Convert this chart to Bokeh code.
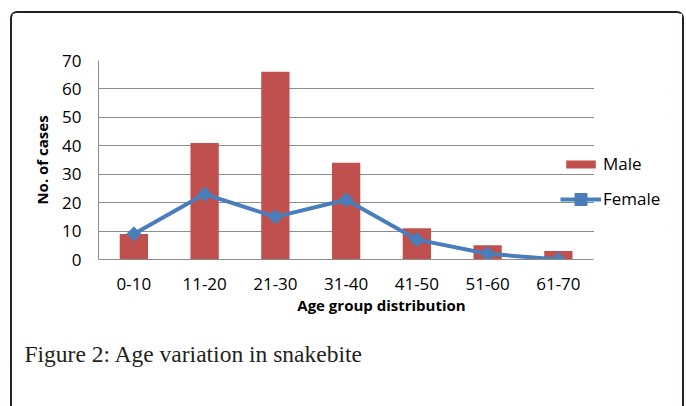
import numpy as np
from bokeh.plotting import figure
from bokeh.layouts import column
from bokeh.models import (FactorRange, Range1d, Legend, LegendItem, Title,
                          SingleIntervalTicker, BoxAnnotation)
from bokeh.embed import file_html
from bokeh.resources import INLINE

# ---- data ----
age_groups = ["0-10", "11-20", "21-30", "31-40", "41-50", "51-60", "61-70"]
male = [9, 41, 66, 34, 11, 5, 3]
female = [9, 23, 15, 21, 7, 2, 0]

x_title = "Age group distribution"
y_title = "No. of cases"
caption = "Figure 2: Age variation in snakebite"

BAR = "#C0504D"
LINE = "#4A7EBB"
GRID = "#8c8c8c"
FONT = "Open Sans"
INK = "#231f20"

# one empty slot to the right of the categories holds the legend
legend_slot = " "

p = figure(width=670, height=393, output_backend="svg", toolbar_location=None,
           x_range=FactorRange(*age_groups, legend_slot, range_padding=0),
           y_range=Range1d(0, 70))
p.min_border_left = 86
p.min_border_right = 18
p.min_border_top = 47
p.min_border_bottom = 147
p.outline_line_color = None
p.background_fill_color = "white"
p.border_fill_color = "white"

bars = p.vbar(x=age_groups, top=male, width=0.4, fill_color=BAR, line_color=None)
ln = p.line(x=age_groups, y=female, line_width=4, line_color=LINE)
mk = p.scatter(x=age_groups, y=female, marker="square", angle=np.pi / 4, size=10,
               fill_color=LINE, line_color=LINE)

# axes
p.yaxis.ticker = SingleIntervalTicker(interval=10)
for ax in (p.xaxis[0], p.yaxis[0]):
    ax.axis_line_color = GRID
    ax.axis_line_width = 1
    ax.major_tick_in = 0
    ax.major_tick_out = 0
    ax.minor_tick_in = 0
    ax.minor_tick_out = 0
    ax.major_label_text_font = FONT
    ax.major_label_text_font_size = "17px"
    ax.major_label_text_color = "black"
    ax.axis_label_text_font = FONT
    ax.axis_label_text_font_size = "15px"
    ax.axis_label_text_font_style = "bold"
    ax.axis_label_text_color = "black"
p.xaxis.bounds = (0, len(age_groups))
p.yaxis.axis_label = y_title
p.xaxis.axis_label = x_title
p.yaxis.major_label_standoff = 17
p.yaxis.axis_label_standoff = 7
p.xaxis.major_label_standoff = 18
p.xaxis.axis_label_standoff = 2

p.xgrid.grid_line_color = None
p.ygrid.grid_line_color = GRID
p.ygrid.grid_line_width = 1

# blank the gridlines in the legend slot
p.add_layout(BoxAnnotation(left=495.5, left_units="screen",
                           right=800, right_units="screen",
                           fill_color="white", fill_alpha=1, line_color=None))

# legends
common = dict(orientation="vertical", padding=0, margin=0, spacing=0,
              border_line_color=None, background_fill_alpha=0,
              label_text_font=FONT, label_text_font_size="17px",
              label_text_color="black")
leg_m = Legend(items=[LegendItem(label="Male", renderers=[bars])],
               location=(464, 84), glyph_width=37, glyph_height=10,
               label_standoff=4, **common)
leg_f = Legend(items=[LegendItem(label="Female", renderers=[ln, mk])],
               location=(462, 45.5), glyph_width=41, glyph_height=30,
               label_standoff=2, **common)
p.add_layout(leg_m, "center")
p.add_layout(leg_f, "center")

# caption
p.add_layout(Title(text=caption, align="left", offset=-74, standoff=42,
                   text_font="Liberation Serif", text_font_size="23.5px",
                   text_font_style="normal", text_color=INK), "below")

page = column(p, styles={"margin-left": "10px", "margin-top": "11px",
                         "border-top": f"2px solid {INK}",
                         "border-left": f"2px solid {INK}",
                         "border-right": f"2px solid {INK}",
                         "border-radius": "7px 7px 0 0"})

open("out.html", "w").write(file_html(page, INLINE))
